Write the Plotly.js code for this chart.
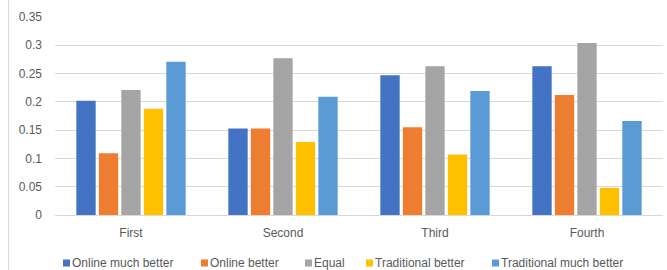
<!DOCTYPE html>
<html><head><meta charset="utf-8">
<script src="https://cdn.plot.ly/plotly-3.0.1.min.js"></script>
<style>html,body{margin:0;padding:0;background:#fff;}#chart{width:667px;height:270px;}</style>
</head><body><div id="chart"></div>
<script>
const categories = ["First", "Second", "Third", "Fourth"];
const seriesNames = ["Online much better", "Online better", "Equal", "Traditional better", "Traditional much better"];
const onlineMuchBetter = [0.202, 0.153, 0.247, 0.263];
const onlineBetter = [0.109, 0.153, 0.155, 0.212];
const equal = [0.221, 0.277, 0.263, 0.304];
const traditionalBetter = [0.188, 0.129, 0.107, 0.048];
const traditionalMuchBetter = [0.271, 0.209, 0.219, 0.166];
const yTicks = [0, 0.05, 0.1, 0.15, 0.2, 0.25, 0.3, 0.35];
const yTickLabels = ["0", "0.05", "0.1", "0.15", "0.2", "0.25", "0.3", "0.35"];
const colors = ["#4472C4", "#ED7D31", "#A5A5A5", "#FFC000", "#5B9BD5"];
const values = [onlineMuchBetter, onlineBetter, equal, traditionalBetter, traditionalMuchBetter];

const traces = values.map((v, i) => ({
  type: "bar", x: categories, y: v, name: seriesNames[i],
  marker: {color: colors[i]}, hoverinfo: "none"
}));
const fnt = {family: "Liberation Sans, Arial, sans-serif", size: 12, color: "#595959"};
const L = 55, W = 608, T = 17, H = 198;
const px = x => (x - L) / W;
const py = y => (T + H - y) / H;
// legend layout (pixel positions of the swatches)
const legendX = [63, 201, 305, 366, 492];
const legendY = 263;
const shapes = [{type: "line", xref: "paper", yref: "paper", x0: px(8.5), x1: px(8.5), y0: py(270), y1: py(0),
            line: {color: "#D9D9D9", width: 1}}];
const annotations = [];
seriesNames.forEach((n, i) => {
  shapes.push({type: "rect", xref: "paper", yref: "paper", x0: px(legendX[i]), x1: px(legendX[i] + 7),
    y0: py(legendY + 3.5), y1: py(legendY - 3.5), fillcolor: colors[i], line: {width: 0}});
  annotations.push({xref: "paper", yref: "paper", x: px(legendX[i] + 8), y: py(legendY), xanchor: "left", yanchor: "middle",
    text: n, showarrow: false, font: fnt, borderpad: 0});
});
Plotly.newPlot("chart", traces, {
  width: 667, height: 270,
  margin: {l: L, r: 667 - L - W, t: T, b: 270 - T - H},
  paper_bgcolor: "#fff", plot_bgcolor: "#fff",
  barmode: "group", bargap: 0.26, bargroupgap: 0.14,
  font: fnt, showlegend: false,
  xaxis: {showgrid: false, showline: false, zeroline: false, ticks: "", tickfont: fnt, ticklabelstandoff: 9, automargin: false},
  yaxis: {range: [0, 0.35], tickvals: yTicks, ticktext: yTickLabels, showgrid: true, gridcolor: "#D9D9D9", gridwidth: 1,
          zeroline: true, zerolinecolor: "#D9D9D9", zerolinewidth: 1, showline: false, ticks: "", tickfont: fnt, ticklabelstandoff: 12, automargin: false},
  shapes: shapes, annotations: annotations
}, {displayModeBar: false, staticPlot: true});
</script></body></html>
